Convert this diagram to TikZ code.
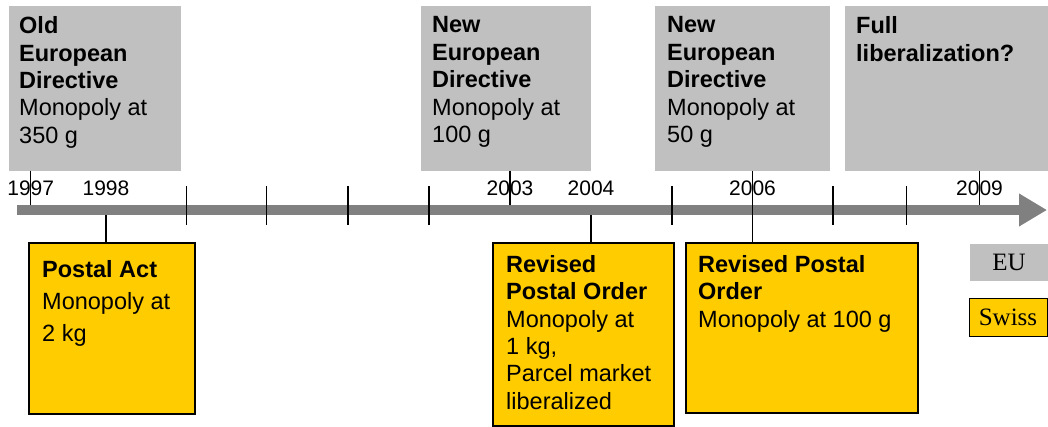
\documentclass[tikz,border=0pt]{standalone}
\usepackage{fontspec}
\setmainfont{Liberation Sans}
\newfontfamily\legfont{Liberation Serif}
\usetikzlibrary{arrows.meta}
\definecolor{eugray}{HTML}{C0C0C0}
\definecolor{swissyellow}{HTML}{FFCC00}
\definecolor{axisgray}{HTML}{808080}
\begin{document}
\begin{tikzpicture}[x=1pt,y=-1pt,
  eubox/.style={fill=eugray, draw=none, anchor=north west, inner sep=0pt, outer sep=0pt},
  chbox/.style={fill=swissyellow, draw=black, line width=1.8pt, anchor=north west, inner sep=0pt, outer sep=0pt},
  boxtext/.style={anchor=north west, inner sep=0pt, align=left, font=\fontsize{23.5}{27.4}\selectfont},
  yeartext/.style={anchor=base, inner sep=0pt, font=\fontsize{21}{24}\selectfont},
  tickmark/.style={line width=1.4pt, black},
  conn/.style={line width=1.4pt, black},
  axisbar/.style={draw=axisgray, line width=10pt, -{Triangle[length=28pt,width=31pt]}},
  legtext/.style={font=\legfont\fontsize{25}{28}\selectfont, inner sep=0pt, outer sep=0pt, anchor=north west}]
\useasboundingbox (0,0) rectangle (1048,427);

% EU boxes
\node[eubox, minimum width=172pt, minimum height=165pt] (g1) at (9,6) {};
\node[eubox, minimum width=170pt, minimum height=165pt] (g2) at (421,6) {};
\node[eubox, minimum width=175pt, minimum height=165pt] (g3) at (655,6) {};
\node[eubox, minimum width=203pt, minimum height=165pt] (g4) at (845,6) {};

\node[boxtext] (g1t) at (19,16.5) {\textbf{Old}\\\textbf{European}\\\textbf{Directive}\\Monopoly at\\350 g};
\node[boxtext] (g2t) at (432,16.5) {\textbf{New}\\\textbf{European}\\\textbf{Directive}\\Monopoly at\\100 g};
\node[boxtext] (g3t) at (667,16.5) {\textbf{New}\\\textbf{European}\\\textbf{Directive}\\Monopoly at\\50 g};
\node[boxtext] (g4t) at (856,16.5) {\textbf{Full}\\\textbf{liberalization?}};

% Swiss boxes
\node[chbox, minimum width=166pt, minimum height=171pt] (s1) at (29,243) {};
\node[chbox, minimum width=181pt, minimum height=183pt] (s2) at (493,243) {};
\node[chbox, minimum width=232pt, minimum height=170pt] (s3) at (686,243) {};

\node[boxtext, font=\fontsize{23.5}{32}\selectfont] (s1t) at (42,260) {\textbf{Postal Act}\\Monopoly at\\2 kg};
\node[boxtext] (s2t) at (506,255) {\textbf{Revised}\\\textbf{Postal Order}\\Monopoly at\\1 kg,\\Parcel market\\liberalized};
\node[boxtext] (s3t) at (698,255) {\textbf{Revised Postal}\\\textbf{Order}\\Monopoly at 100 g};

% axis points
\coordinate (y1997) at (30.7,210);
\coordinate (y1998) at (106,210);
\coordinate (y2003) at (510,210);
\coordinate (y2004) at (591,210);
\coordinate (y2006) at (752.5,210);
\coordinate (y2009) at (979.5,210);
\coordinate (axisstart) at (17,210);
\coordinate (axisend) at (1047,210);

% year labels
\node[yeartext] (l1997) at (30.7,196) {1997};
\node[yeartext] (l1998) at (106,196) {1998};
\node[yeartext] (l2003) at (510,196) {2003};
\node[yeartext] (l2004) at (591,196) {2004};
\node[yeartext] (l2006) at (752.5,196) {2006};
\node[yeartext] (l2009) at (979.5,196) {2009};

% connectors behind the bar
\draw[conn] (g1.south -| y1997) -- (y1997);
\draw[conn] (g2.south -| y2003) -- (y2003);
\draw[conn] (g4.south -| y2009) -- (y2009);
\draw[conn] (y1998) -- (s1.north -| y1998);
\draw[conn] (y2004) -- (s2.north -| y2004);

% axis
\draw[axisbar] (axisstart) -- (axisend);

% ticks
\foreach \tx in {186.7,266.7,348,429,672,833,906.5}
  \draw[tickmark] (\tx,186) -- (\tx,225);

% 2006 connector over the bar
\draw[conn] (g3.south -| y2006) -- (s3.north -| y2006);

% legend
\node[eubox, minimum width=78pt, minimum height=37pt, font=\legfont\fontsize{25}{28}\selectfont, anchor=north west] (legeu) at (970,244) {EU};
\node[fill=swissyellow, draw=black, line width=1pt, inner sep=0pt, outer sep=0pt, minimum width=78pt, minimum height=38pt, font=\legfont\fontsize{25}{28}\selectfont, anchor=north west] (legch) at (969,298) {Swiss};
\end{tikzpicture}
\end{document}
